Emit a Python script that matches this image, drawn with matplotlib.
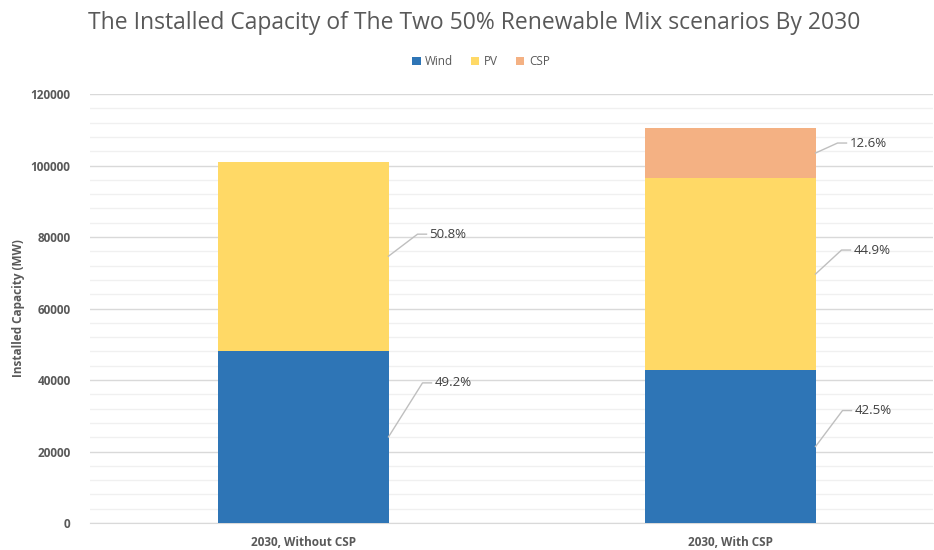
import matplotlib.pyplot as plt
import numpy as np

categories = ["2030, Without CSP", "2030, With CSP"]
series = ["Wind", "PV", "CSP"]
wind = [48200, 42800]
pv = [52900, 53700]
csp = [0, 14000]
labels = [["49.2%", "42.5%"], ["50.8%", "44.9%"], [None, "12.6%"]]

colors = ["#2E75B6", "#FFD966", "#F4B183"]
# leader line offsets in pixels (dx to corner, dy up)
offsets = [[(34, 54), (27, 36)], [(29, 22), (26, 24)], [None, (22, 10)]]

plt.rcParams['font.family'] = ['Open Sans', 'DejaVu Sans']
fig = plt.figure(figsize=(9.34, 5.5), dpi=100)
ax = fig.add_axes([0.0964, 0.049, 0.902, 0.780])

x = np.arange(len(categories))
w = 0.40
bottom = np.zeros(len(categories))
for vals, name, c in zip([wind, pv, csp], series, colors):
    ax.bar(x, vals, w, bottom=bottom, color=c, label=name, zorder=3)
    bottom += np.array(vals)

ax.set_xlim(-0.499, 1.474)
ax.set_ylim(0, 120000)
ax.set_yticks(np.arange(0, 120001, 20000))
ax.set_yticks(np.arange(0, 120001, 4000), minor=True)
ax.grid(axis='y', which='major', color='#d9d9d9', lw=1, zorder=0)
ax.grid(axis='y', which='minor', color='#f0f0f0', lw=1, zorder=0)
for s in ['top', 'right', 'left']:
    ax.spines[s].set_visible(False)
ax.spines['bottom'].set_color('#d9d9d9')
ax.tick_params(axis='both', which='both', length=0)
ax.tick_params(axis='y', pad=14)
ax.tick_params(axis='x', pad=9)
ax.set_xticks(x)
ax.set_xticklabels(categories, fontsize=8.5, fontweight='bold', color='#595959')
for t in ax.get_yticklabels():
    t.set_fontsize(8.5)
    t.set_fontweight('bold')
    t.set_color('#595959')
ax.set_ylabel("Installed Capacity (MW)", fontsize=8.5, fontweight='bold', color='#595959')
ax.yaxis.set_label_coords(-0.077, 0.5)

# data labels with leader lines
to_pix = ax.transData
to_data = ax.transData.inverted()
bottom = np.zeros(len(categories))
for si, vals in enumerate([wind, pv, csp]):
    for ci in range(len(categories)):
        v = vals[ci]
        if labels[si][ci] is None or v == 0:
            continue
        mid = bottom[ci] + v / 2
        px, py = to_pix.transform((x[ci] + w / 2, mid))
        dx, dy = offsets[si][ci]
        pts = [(px, py), (px + dx, py + dy), (px + dx + 9, py + dy)]
        d = to_data.transform(pts)
        ax.plot(d[:, 0], d[:, 1], color='#bfbfbf', lw=1, zorder=4, clip_on=False)
        tx, ty = to_data.transform((px + dx + 12, py + dy))
        ax.text(tx, ty, labels[si][ci], fontsize=9.5, color='#404040', va='center', ha='left')
    bottom += np.array(vals)

fig.suptitle("The Installed Capacity of The Two 50% Renewable Mix scenarios By 2030",
             fontsize=16.5, color='#595959', x=0.508, y=0.98)
fig.legend(loc='center', bbox_to_anchor=(0.515, 0.888), ncol=3, frameon=False,
           fontsize=8.5, handlelength=0.7, handleheight=0.7, handletextpad=0.4,
           columnspacing=1.5, labelcolor='#595959')

fig.savefig("out.png", dpi=100)
